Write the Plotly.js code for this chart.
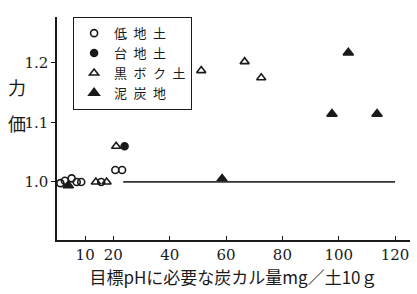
<!DOCTYPE html>
<html><head><meta charset="utf-8">
<script src="https://cdn.plot.ly/plotly-3.0.1.min.js"></script>
<style>body{margin:0;background:#fff}#c{width:417px;height:294px}</style>
</head><body><div id="c"></div>
<script>
// 低地土 (open circle)
const lowX = [1.2, 2.8, 5.2, 7.0, 8.6, 15.7, 20.7, 23.1];
const lowY = [0.998, 1.002, 1.006, 1.0, 1.0, 1.0, 1.02, 1.02];
// 台地土 (filled circle)
const upX = [24.0, 38.8, 44.8];
const upY = [1.06, 1.176, 1.20];
// 黒ボク土 (open triangle)
const andX = [13.8, 17.6, 21.0, 51.2, 66.6, 72.5];
const andY = [1.0, 1.0, 1.06, 1.187, 1.202, 1.175];
// 泥炭地 (filled triangle)
const peatX = [4.0, 58.6, 97.6, 103.4, 113.6];
const peatY = [0.994, 1.005, 1.114, 1.217, 1.114];
// reference line
const refX = [23.5, 120];
const refY = [1.0, 1.0];
const xTicks = [10, 20, 40, 60, 80, 100, 120];
const yTicks = [1.0, 1.1, 1.2];
const names = ['低\u2002地\u2002土', '台\u2002地\u2002土', '黒\u2002ボ\u2002ク\u2002土', '泥\u2002炭\u2002地'];

const ink = '#1a1a1a';
const serif = 'DejaVu Serif';
const mk = (sym, size) => ({symbol: sym, size: size, color: ink, line: {color: ink, width: 1.6}});
const traces = [
  {x: lowX, y: lowY, name: names[0], mode: 'markers', type: 'scatter', marker: mk('circle-open', 7)},
  {x: upX, y: upY, name: names[1], mode: 'markers', type: 'scatter', marker: mk('circle', 7)},
  {x: andX, y: andY, name: names[2], mode: 'markers', type: 'scatter', marker: mk('triangle-up-open', 8)},
  {x: peatX, y: peatY, name: names[3], mode: 'markers', type: 'scatter', marker: mk('triangle-up', 9)},
  {x: refX, y: refY, mode: 'lines', type: 'scatter', showlegend: false, line: {color: '#333', width: 1.8}, hoverinfo: 'skip'}
];
const layout = {
  width: 417, height: 294,
  margin: {l: 57, r: 7, t: 17, b: 54},
  paper_bgcolor: '#fff', plot_bgcolor: '#fff',
  font: {family: serif, color: ink, size: 15},
  showlegend: true,
  legend: {x: 0.045, y: 1.0, xanchor: 'left', yanchor: 'top', bordercolor: ink, borderwidth: 1.2,
    bgcolor: '#fff', font: {family: 'Noto Sans CJK JP', size: 13, color: ink}, tracegroupgap: 0,
    itemwidth: 30},
  xaxis: {range: [0, 125.3], tickvals: xTicks, ticktext: xTicks.map(String), ticks: 'inside', ticklen: 4,
    tickcolor: ink, showline: true, linecolor: ink, linewidth: 1.6, showgrid: false, zeroline: false,
    tickfont: {family: serif, size: 15, color: ink},
    title: {text: '目標pHに必要な炭カル量mg／土10ｇ', font: {family: 'Noto Sans CJK JP', size: 17, color: ink}, standoff: 4}},
  yaxis: {range: [0.9025, 1.277], tickvals: yTicks, ticktext: yTicks.map(v => v.toFixed(1)), ticks: 'outside', ticklen: 4,
    tickcolor: ink, showline: true, linecolor: ink, linewidth: 1.6, showgrid: false, zeroline: false,
    tickfont: {family: serif, size: 15, color: ink}},
  annotations: [
    {text: '力', xref: 'paper', yref: 'paper', x: -0.113, y: 0.686, xanchor: 'center', yanchor: 'middle', showarrow: false, font: {family: 'Noto Sans CJK JP', size: 18, color: ink}},
    {text: '価', xref: 'paper', yref: 'paper', x: -0.113, y: 0.525, xanchor: 'center', yanchor: 'middle', showarrow: false, font: {family: 'Noto Sans CJK JP', size: 18, color: ink}}
  ]
};
Plotly.newPlot('c', traces, layout, {staticPlot: true});
</script></body></html>
